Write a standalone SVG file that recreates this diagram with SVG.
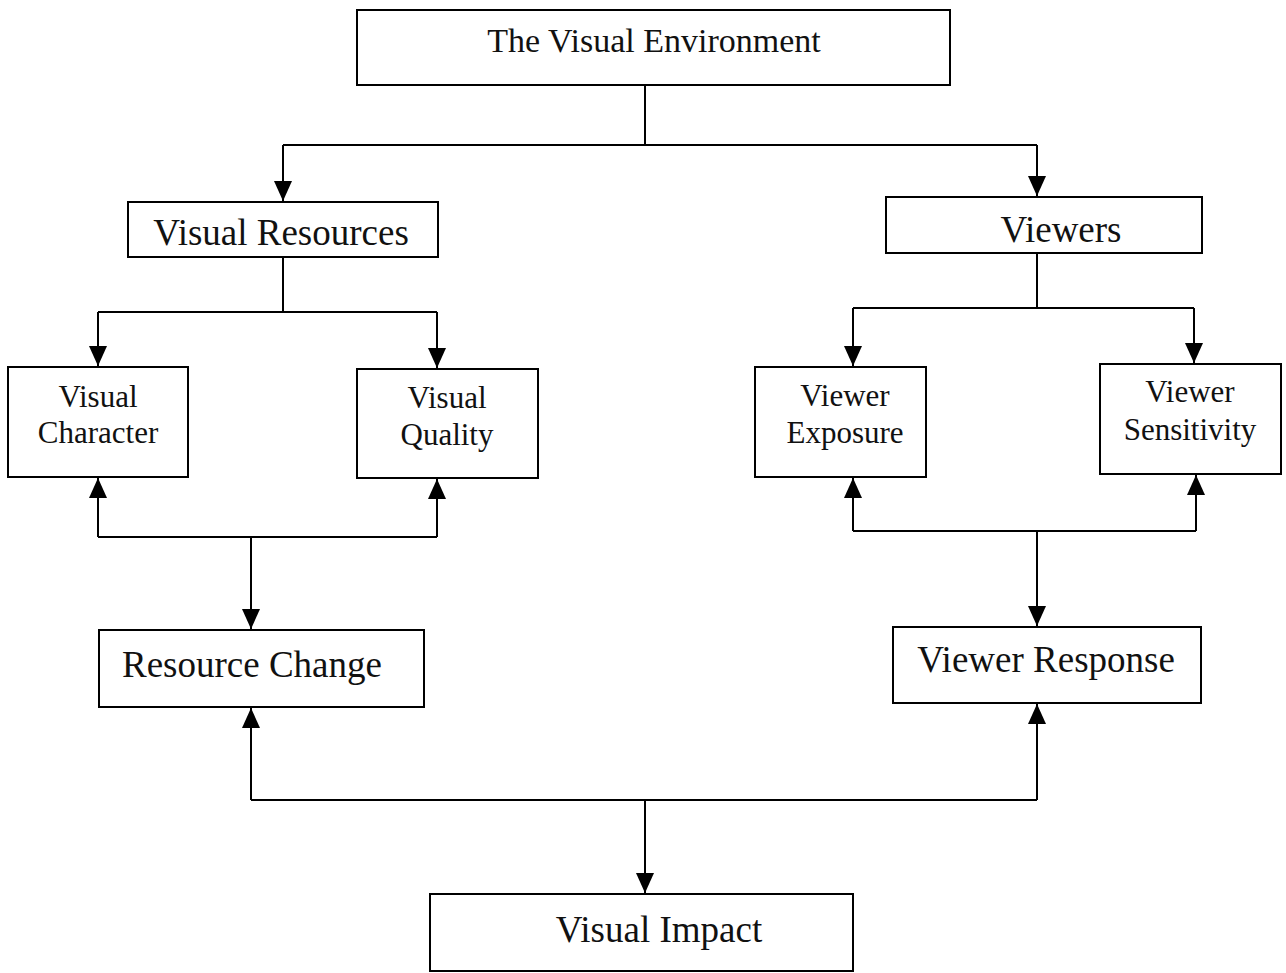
<svg xmlns="http://www.w3.org/2000/svg" width="1286" height="973" viewBox="0 0 1286 973">
<defs>
<marker id="arr" markerUnits="userSpaceOnUse" markerWidth="22" markerHeight="20" refX="20" refY="9" orient="auto">
<path d="M0,0 L20,9 L0,18 z" fill="#000"/>
</marker>
<style>
.box{fill:#fff;stroke:#000;stroke-width:2}
.t{font-family:"Liberation Serif","Times New Roman",serif;fill:#111;text-anchor:middle}
.conn{fill:none;stroke:#000;stroke-width:2}
</style>
</defs>
<rect width="1286" height="973" fill="#fff"/>
<g id="connectors">
<path class="conn" d="M645,85 V145 M283,145 H1037"/>
<path class="conn" d="M283,145 V201" marker-end="url(#arr)"/>
<path class="conn" d="M1037,145 V196" marker-end="url(#arr)"/>
<path class="conn" d="M283,257 V312 M98,312 H437"/>
<path class="conn" d="M98,312 V366" marker-end="url(#arr)"/>
<path class="conn" d="M437,312 V368" marker-end="url(#arr)"/>
<path class="conn" d="M1037,253 V308 M853,308 H1194"/>
<path class="conn" d="M853,308 V366" marker-end="url(#arr)"/>
<path class="conn" d="M1194,308 V363" marker-end="url(#arr)"/>
<path class="conn" d="M98,537 H437"/>
<path class="conn" d="M98,537 V478" marker-end="url(#arr)"/>
<path class="conn" d="M437,537 V479" marker-end="url(#arr)"/>
<path class="conn" d="M251,537 V629" marker-end="url(#arr)"/>
<path class="conn" d="M853,531 H1196"/>
<path class="conn" d="M853,531 V478" marker-end="url(#arr)"/>
<path class="conn" d="M1196,531 V475" marker-end="url(#arr)"/>
<path class="conn" d="M1037,531 V626" marker-end="url(#arr)"/>
<path class="conn" d="M251,800 H1037"/>
<path class="conn" d="M251,800 V708" marker-end="url(#arr)"/>
<path class="conn" d="M1037,800 V704" marker-end="url(#arr)"/>
<path class="conn" d="M645,800 V893" marker-end="url(#arr)"/>
</g>
<g id="visual-environment">
<rect class="box" x="357" y="10" width="593" height="75"/>
<text class="t" x="654" y="52" font-size="34">The Visual Environment</text>
</g>
<g id="visual-resources">
<rect class="box" x="128" y="202" width="310" height="55"/>
<text class="t" x="281" y="245" font-size="37">Visual Resources</text>
</g>
<g id="viewers">
<rect class="box" x="886" y="197" width="316" height="56"/>
<text class="t" x="1061" y="242" font-size="37">Viewers</text>
</g>
<g id="visual-character">
<rect class="box" x="8" y="367" width="180" height="110"/>
<text class="t" x="98" y="407" font-size="31">Visual</text>
<text class="t" x="98" y="443" font-size="31">Character</text>
</g>
<g id="visual-quality">
<rect class="box" x="357" y="369" width="181" height="109"/>
<text class="t" x="447" y="408" font-size="31">Visual</text>
<text class="t" x="447" y="445" font-size="31">Quality</text>
</g>
<g id="viewer-exposure">
<rect class="box" x="755" y="367" width="171" height="110"/>
<text class="t" x="845" y="406" font-size="31">Viewer</text>
<text class="t" x="845" y="443" font-size="31">Exposure</text>
</g>
<g id="viewer-sensitivity">
<rect class="box" x="1100" y="364" width="181" height="110"/>
<text class="t" x="1190" y="402" font-size="31">Viewer</text>
<text class="t" x="1190" y="440" font-size="31">Sensitivity</text>
</g>
<g id="resource-change">
<rect class="box" x="99" y="630" width="325" height="77"/>
<text class="t" x="252" y="677" font-size="37">Resource Change</text>
</g>
<g id="viewer-response">
<rect class="box" x="893" y="627" width="308" height="76"/>
<text class="t" x="1046" y="672" font-size="37">Viewer Response</text>
</g>
<g id="visual-impact">
<rect class="box" x="430" y="894" width="423" height="77"/>
<text class="t" x="659" y="942" font-size="37">Visual Impact</text>
</g>
</svg>
